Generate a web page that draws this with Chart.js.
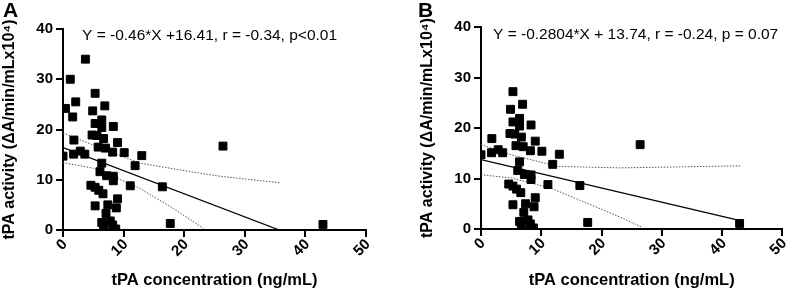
<!DOCTYPE html>
<html>
<head>
<meta charset="utf-8">
<script src="https://cdn.jsdelivr.net/npm/chart.js@4/dist/chart.umd.min.js"></script>
<style>
  body { margin: 0; background: #fff; }
  .panel { position: absolute; top: 0; }
</style>
</head>
<body>
<div class="panel" style="left:0"><canvas id="chartA" width="392" height="292"></canvas></div>
<div class="panel" style="left:400px"><canvas id="chartB" width="389" height="292"></canvas></div>
<script>
// Panel A: all samples
const concA = [0, 0.4, 1.2, 2.1, 1.6, 1.8, 1.75, 2.85, 3.6, 3.7, 5.3, 4.9, 6.9, 6.4, 5.3, 6.4, 8.3, 4.8, 5.6, 6.7,
  9.0, 5.8, 7.0, 8.2, 10.1, 13.0, 6.4, 11.9, 6.1, 7.2, 8.3, 8.3, 11.1, 16.4, 4.6, 5.3, 5.9, 6.6, 9.0, 5.3,
  7.4, 8.8, 7.1, 6.4, 7.8, 8.2, 6.7, 8.7, 17.7, 26.4, 42.9];
const actA = [14.7, 24.2, 30.0, 25.5, 22.5, 17.9, 15.1, 15.7, 15.1, 34.0, 27.2, 23.7, 24.7, 21.9, 21.2, 20.4, 20.6, 18.9, 18.8, 18.2,
  17.4, 16.5, 16.3, 15.5, 15.4, 14.8, 13.3, 12.8, 11.6, 10.8, 10.7, 9.8, 8.8, 8.6, 8.9, 8.5, 7.9, 7.2, 6.2, 4.8,
  5.0, 4.4, 3.3, 1.5, 1.8, 1.0, 0.8, 0.2, 1.3, 16.7, 1.1];

// Panel B: same samples without the five high-activity ones near zero
const concB = [0, 1.8, 1.75, 2.85, 3.6, 5.3, 4.9, 6.9, 6.4, 5.3, 6.4, 8.3, 4.8, 5.6, 6.7,
  9.0, 5.8, 7.0, 8.2, 10.1, 13.0, 6.4, 11.9, 6.1, 7.2, 8.3, 8.3, 11.1, 16.4, 4.6, 5.3, 5.9, 6.6, 9.0, 5.3,
  7.4, 8.8, 7.1, 6.4, 7.8, 8.2, 6.7, 8.7, 17.7, 26.4, 42.9];
const actB = [14.7, 17.9, 15.1, 15.7, 15.1, 27.2, 23.7, 24.7, 21.9, 21.2, 20.4, 20.6, 18.9, 18.8, 18.2,
  17.4, 16.5, 16.3, 15.5, 15.4, 14.8, 13.3, 12.8, 11.6, 10.8, 10.7, 9.8, 8.8, 8.6, 8.9, 8.5, 7.9, 7.2, 6.2, 4.8,
  5.0, 4.4, 3.3, 1.5, 1.8, 1.0, 0.8, 0.2, 1.3, 16.7, 1.1];

// fit lines and 95% bands
const fitA = [[0, 16.41], [35.7, 0]];
const upperA = [[0, 19.3], [5, 16.9], [12.7, 13.3], [22.6, 11.3], [25.9, 10.7], [35.8, 9.4]];
const lowerA = [[0, 13.4], [5, 12.3], [12.2, 8.6], [18.2, 4.3], [23.2, 0.3]];
const fitB = [[0, 13.74], [43, 1.68]];
const upperB = [[0, 16.7], [5, 14.7], [12.7, 12.4], [23, 12.1], [43, 12.5]];
const lowerB = [[0, 10.75], [5, 10.1], [11.6, 8.1], [23, 2.4], [26.6, 0.4]];

const xTicks = [0, 10, 20, 30, 40, 50];
const yTicks = [0, 10, 20, 30, 40];

const FONT = 'Arial, "Liberation Sans", sans-serif';

const toPts = arr => arr.map(p => ({ x: p[0], y: p[1] }));

// draws panel letter, regression equation and the 45° x tick labels
const annotate = {
    id: 'annotate',
    afterDraw(chart, args, opts) {
        const ctx = chart.ctx;
        const xs = chart.scales.x;
        ctx.save();
        ctx.fillStyle = '#000';
        ctx.textBaseline = 'middle';
        ctx.font = 'bold 21px ' + FONT;
        ctx.fillText(opts.letter, opts.letterX, 11);
        ctx.font = '15.5px ' + FONT;
        ctx.fillText(opts.equation, opts.eqX, opts.eqY);

        ctx.font = 'bold 15px ' + FONT;
        ctx.textAlign = 'right';
        xTicks.forEach(v => {
            ctx.save();
            ctx.translate(xs.getPixelForValue(v) + 2, chart.chartArea.bottom + 12);
            ctx.rotate(-Math.PI / 4);
            ctx.fillText(String(v), 0, 0);
            ctx.restore();
        });
        ctx.restore();
    }
};

function renderPanel(canvasId, xs, ys, fit, upper, lower, ann, padLeft, padRight, padTop, bottom) {
    const ctx = document.getElementById(canvasId).getContext('2d');
    const band = {
        type: 'scatter', showLine: true, pointRadius: 0, fill: false,
        borderColor: '#555', borderWidth: 1, borderDash: [1.5, 1.5]
    };
    return new Chart(ctx, {
        type: 'scatter',
        data: {
            datasets: [
                {
                    data: xs.map((x, i) => ({ x: x, y: ys[i] })),
                    pointStyle: 'rect', pointRadius: 5.6,
                    backgroundColor: '#000', borderColor: '#000', borderWidth: 1
                },
                { data: toPts(fit), showLine: true, pointRadius: 0, borderColor: '#000', borderWidth: 1.3 },
                Object.assign({ data: toPts(upper) }, band),
                Object.assign({ data: toPts(lower) }, band)
            ]
        },
        options: {
            responsive: false,
            animation: false,
            layout: { padding: { left: padLeft, right: padRight, top: padTop, bottom: 0 } },
            plugins: { legend: { display: false }, tooltip: { enabled: false }, annotate: ann },
            scales: {
                x: {
                    type: 'linear', min: 0, max: 50,
                    afterBuildTicks: s => { s.ticks = xTicks.map(v => ({ value: v })); },
                    afterFit: s => { s.height = 292 - bottom; },
                    grid: { drawOnChartArea: false, tickLength: 7, color: '#000', lineWidth: 2 },
                    border: { color: '#000', width: 2 },
                    ticks: { display: false },
                    title: {
                        display: true, text: 'tPA concentration (ng/mL)', color: '#000',
                        font: { family: FONT, size: 16.5, weight: 'bold' }, padding: { top: 0, bottom: 2 }
                    }
                },
                y: {
                    type: 'linear', min: 0, max: 40,
                    afterBuildTicks: s => { s.ticks = yTicks.map(v => ({ value: v })); },
                    afterFit: s => { s.width = 63; },
                    grid: { drawOnChartArea: false, tickLength: 7, color: '#000', lineWidth: 2 },
                    border: { color: '#000', width: 2 },
                    ticks: { color: '#000', font: { family: FONT, size: 15, weight: 'bold' }, padding: 3 },
                    title: {
                        display: true, text: 'tPA activity (\u0394A/min/mLx10\u2074)', color: '#000',
                        font: { family: FONT, size: 16, weight: 'bold' }, padding: { top: 0, bottom: 0 }
                    }
                }
            }
        },
        plugins: [annotate]
    });
}

renderPanel('chartA', concA, actA, fitA, upperA, lowerA,
    { letter: 'A', letterX: 3, equation: 'Y = -0.46*X +16.41, r = -0.34, p<0.01', eqX: 82, eqY: 36 },
    0, 26, 29, 230);
renderPanel('chartB', concB, actB, fitB, upperB, lowerB,
    { letter: 'B', letterX: 18, equation: 'Y = -0.2804*X + 13.74, r = -0.24, p = 0.07', eqX: 93, eqY: 35 },
    18, 6, 27, 229);
</script>
</body>
</html>
